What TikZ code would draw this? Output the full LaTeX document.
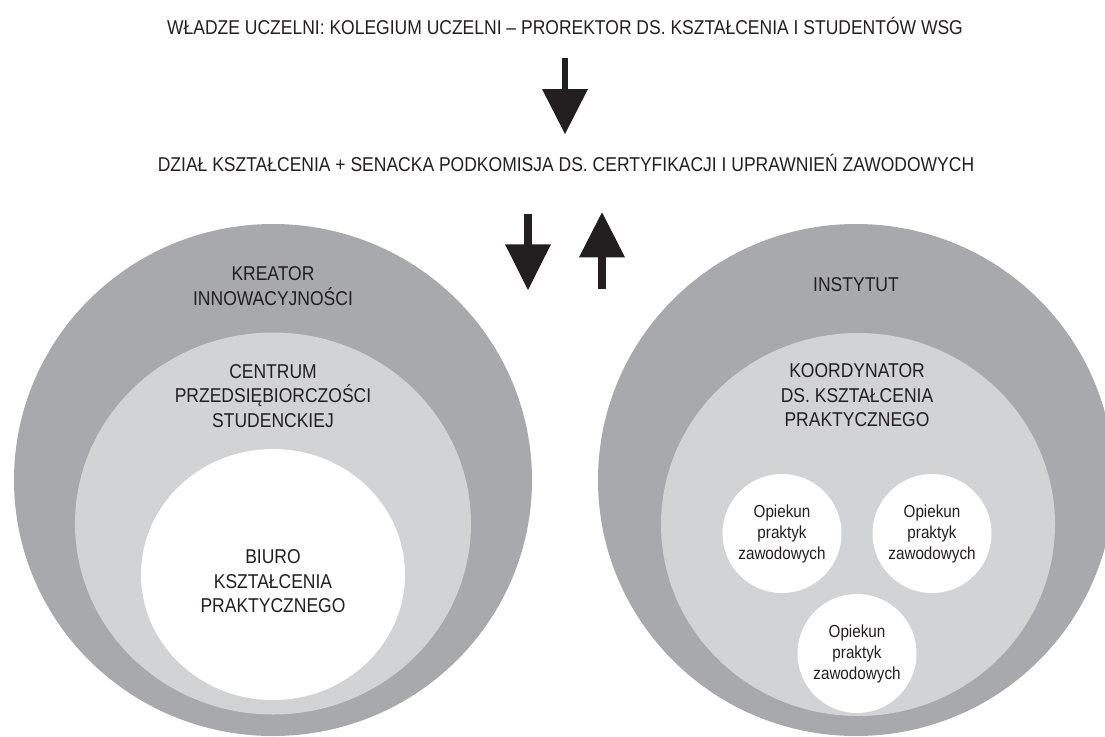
\documentclass[tikz,border=0pt]{standalone}
\usepackage{fontspec}
\setmainfont{Liberation Sans}[FakeStretch=0.875]
\usetikzlibrary{shapes.geometric,calc}
\definecolor{ink}{RGB}{35,31,32}
\definecolor{grayA}{RGB}{167,169,172}
\definecolor{grayB}{RGB}{209,211,212}
\begin{document}
\begin{tikzpicture}[x=1pt,y=-1pt,
  lbl/.style={text=ink, align=center, inner sep=0pt, font=\fontsize{20}{24.5}\selectfont},
  small/.style={text=ink, align=center, inner sep=0pt, font=\fontsize{17.4}{21}\selectfont},
  ring/.style={ellipse, inner sep=0pt, draw=none},
  dot/.style={circle, fill=white, inner sep=0pt, minimum size=119pt, small},
  shaft/.style={draw=ink, line width=7.2pt},
]
\useasboundingbox (0,0) rectangle (1105,736);
\clip (0,0) rectangle (1105,736);

% headings
\node[lbl] (wladze) at (565,25.5) {WŁADZE UCZELNI: KOLEGIUM UCZELNI – PROREKTOR DS. KSZTAŁCENIA I STUDENTÓW WSG};
\node[lbl] (dzial) at (566,163) {DZIAŁ KSZTAŁCENIA + SENACKA PODKOMISJA DS. CERTYFIKACJI I UPRAWNIEŃ ZAWODOWYCH};

% left nest
\node[ring, fill=grayA, minimum width=518pt, minimum height=512pt] (kreator) at (273,480) {};
\node[ring, fill=grayB, minimum width=396pt, minimum height=382pt] (centrum) at (273,523.5) {};
\node[ring, fill=white, minimum width=264pt, minimum height=251pt] (biuro) at (273,574.5) {};
\node[lbl] (kreatorT) at (273,286) {KREATOR\\INNOWACYJNOŚCI};
\node[lbl] (centrumT) at (273,396) {CENTRUM\\PRZEDSIĘBIORCZOŚCI\\STUDENCKIEJ};
\node[lbl] (biuroT) at (273,581.5) {BIURO\\KSZTAŁCENIA\\PRAKTYCZNEGO};

% right nest
\node[ring, fill=grayA, minimum width=516pt, minimum height=512pt] (instytut) at (856,480) {};
\node[ring, fill=grayB, minimum width=394pt, minimum height=383pt] (koord) at (858,524.5) {};
\node[lbl] (instytutT) at (856,285) {INSTYTUT};
\node[lbl] (koordT) at (857,395.5) {KOORDYNATOR\\DS. KSZTAŁCENIA\\PRAKTYCZNEGO};
\node[dot] (op1) at (782,533.5) {Opiekun\\praktyk\\zawodowych};
\node[dot] (op2) at (932,533.5) {Opiekun\\praktyk\\zawodowych};
\node[dot] (op3) at (857,653.5) {Opiekun\\praktyk\\zawodowych};

% arrows
\coordinate (a1s) at (565,58);   \coordinate (a1e) at (565,134);
\coordinate (a2s) at (528,214);  \coordinate (a2e) at (528,290);
\coordinate (a3s) at (602,288.5);\coordinate (a3e) at (602,212.3);

\draw[shaft, line width=6.5pt] (a1s) -- ($(a1e)+(0,-44)$);
\fill[ink] ($(a1e)+(-23,-45)$) -- ($(a1e)+(23,-45)$) -- (a1e) -- cycle;

\draw[shaft] (a2s) -- ($(a2e)+(0,-45)$);
\fill[ink] ($(a2e)+(-23,-45.7)$) -- ($(a2e)+(23,-45.7)$) -- (a2e) -- cycle;

\draw[shaft] (a3s) -- ($(a3e)+(0,44)$);
\fill[ink] ($(a3e)+(-23,45)$) -- ($(a3e)+(23,45)$) -- (a3e) -- cycle;
\end{tikzpicture}
\end{document}
